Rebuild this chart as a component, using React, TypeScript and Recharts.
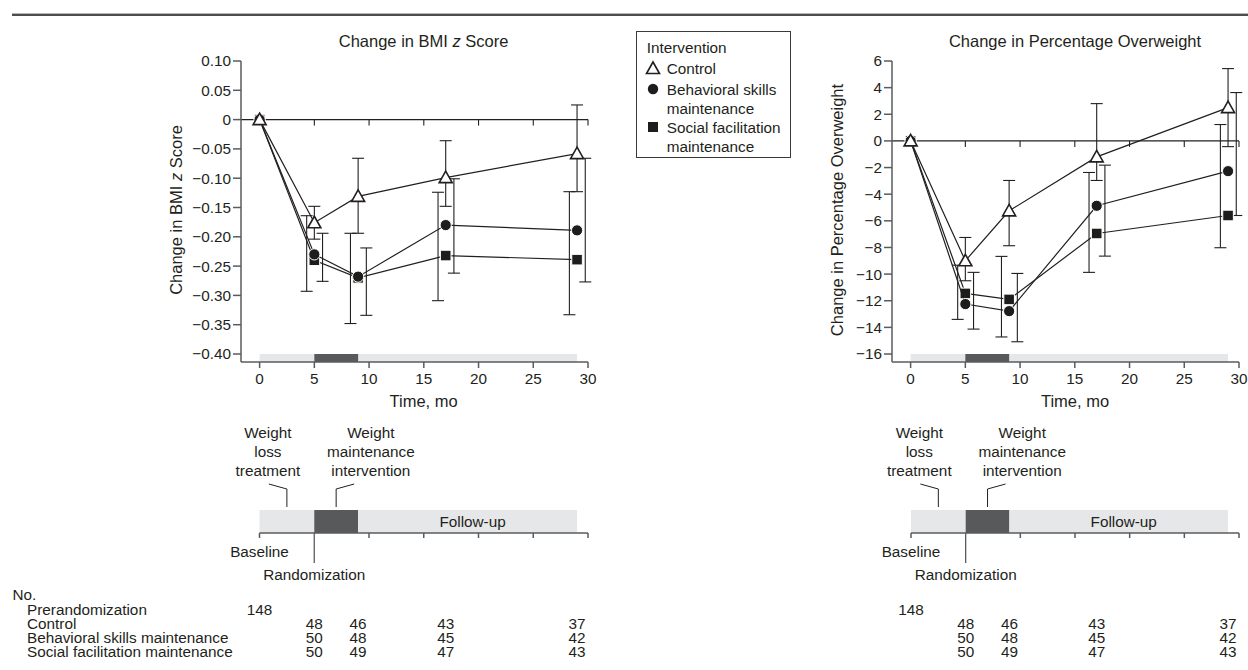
import React from 'react';
import {
  ComposedChart,
  Scatter,
  XAxis,
  YAxis,
  ReferenceLine,
  ReferenceArea,
  ReferenceDot,
  ErrorBar,
} from 'recharts';

const FONT = '"Liberation Sans", Arial, Helvetica, sans-serif';
const INK = '#231f20';
const AXIS = '#5a5b5d';
const LIGHT = '#e6e7e8';
const DARK = '#58595b';
const FS = 15.3;
const FS_BIG = 16.5;

// ---------- data ----------
const months = [0, 5, 9, 17, 29];
const xTicks = [0, 5, 10, 15, 20, 25, 30];

const bmiTicks = [0.1, 0.05, 0, -0.05, -0.1, -0.15, -0.2, -0.25, -0.3, -0.35, -0.4];
const bmiControl = [0, -0.176, -0.131, -0.099, -0.058];
const bmiBehavioral = [0, -0.23, -0.268, -0.18, -0.189];
const bmiSocial = [0, -0.24, -0.27, -0.232, -0.239];
// [below, above]
const bmiControlErr = [[0, 0], [0.028, 0.028], [0.063, 0.065], [0.049, 0.063], [0.065, 0.083]];
const bmiBehavioralErr = [[0, 0], [0.046, 0.036], [0.066, 0.049], [0.082, 0.079], [0.088, 0.123]];
const bmiSocialErr = [[0, 0], [0.053, 0.076], [0.078, 0.076], [0.077, 0.108], [0.094, 0.116]];

const pctTicks = [6, 4, 2, 0, -2, -4, -6, -8, -10, -12, -14, -16];
const pctControl = [0, -9.0, -5.25, -1.2, 2.5];
const pctBehavioral = [0, -12.25, -12.78, -4.87, -2.27];
const pctSocial = [0, -11.45, -11.9, -6.95, -5.6];
const pctControlErr = [[0, 0], [1.5, 1.75], [2.62, 2.28], [1.77, 4.0], [2.93, 2.93]];
const pctBehavioralErr = [[0, 0], [1.88, 2.38], [2.3, 2.83], [3.78, 3.05], [3.33, 5.9]];
const pctSocialErr = [[0, 0], [1.95, 2.12], [2.82, 3.23], [2.92, 4.58], [2.42, 6.83]];

const phaseBounds = [0, 5, 9, 29];
const weightLossLabel = ['Weight', 'loss', 'treatment'];
const maintenanceLabel = ['Weight', 'maintenance', 'intervention'];
const followUpLabel = 'Follow-up';
const baselineLabel = 'Baseline';
const randomizationLabel = 'Randomization';

const nGroups = ['Prerandomization', 'Control', 'Behavioral skills maintenance', 'Social facilitation maintenance'];
const nPrerand = [148];
const nMonths = [5, 9, 17, 29];
const nControl = [48, 46, 43, 37];
const nBehavioral = [50, 48, 45, 42];
const nSocial = [50, 49, 47, 43];

const legendTitle = 'Intervention';
const legendControl = ['Control'];
const legendBehavioral = ['Behavioral skills', 'maintenance'];
const legendSocial = ['Social facilitation', 'maintenance'];

// ---------- style constants ----------
const X_MIN = -1.7;
const SOC_OFF = -0.7;
const BEH_OFF = 0.75;

type Pt = { t: number; v: number; e: number[] };
function build(vals: number[], errs: number[][], off: number, skipZero: boolean): Pt[] {
  const out: Pt[] = [];
  months.forEach((t, i) => {
    if (skipZero && t === 0) return;
    out.push({ t: t + off, v: vals[i], e: errs[i] });
  });
  return out;
}

const Tri = (p: any) => {
  const { cx, cy } = p;
  if (cx == null || cy == null) return <g />;
  return (
    <path
      d={`M${cx},${cy - 6.5}L${cx + 6.5},${cy + 5}L${cx - 6.5},${cy + 5}Z`}
      fill="#fff"
      stroke={INK}
      strokeWidth={1.6}
    />
  );
};
const Dot = (p: any) => {
  if (p.cx == null || p.cy == null) return <g />;
  return <circle cx={p.cx} cy={p.cy} r={5.6} fill="#1d1d1b" stroke="#fff" strokeWidth={1} />;
};
const Sq = (p: any) => {
  if (p.cx == null || p.cy == null) return <g />;
  return <rect x={p.cx - 5.3} y={p.cy - 5.3} width={10.6} height={10.6} fill="#1d1d1b" stroke="#fff" strokeWidth={1} />;
};
const None = () => <g />;

const fmtBmi = (v: number) => (v === 0 ? '0' : (v < 0 ? '\u2212' : '') + Math.abs(v).toFixed(2));
const fmtPct = (v: number) => (v < 0 ? '\u2212' + Math.abs(v) : String(v));

type PanelProps = {
  left: number;
  ml: number;
  mr: number;
  yDomain: [number, number];
  yTicks: number[];
  fmt: (v: number) => string;
  ctrl: number[];
  beh: number[];
  soc: number[];
  ctrlErr: number[][];
  behErr: number[][];
  socErr: number[][];
};

function Panel(props: PanelProps) {
  const { left, ml, mr, yDomain, yTicks, fmt, ctrl, beh, soc, ctrlErr, behErr, socErr } = props;
  const socE = build(soc, socErr, SOC_OFF, true);
  const behE = build(beh, behErr, BEH_OFF, true);
  const ctrlE = build(ctrl, ctrlErr, 0, true);
  const ctrlP = build(ctrl, ctrlErr, 0, false);
  const behP = build(beh, behErr, 0, false);
  const socP = build(soc, socErr, 0, false);
  const axisStyle = { stroke: AXIS, strokeWidth: 1.5 };
  return (
    <div style={{ position: 'absolute', left, top: 0 }}>
      <ComposedChart width={600} height={420} margin={{ top: 61, right: mr, bottom: 28, left: ml }}>
        <XAxis
          type="number"
          dataKey="t"
          domain={[X_MIN, 30]}
          ticks={xTicks}
          interval={0}
          allowDataOverflow
          height={30}
          tickSize={6}
          tickMargin={5}
          axisLine={axisStyle}
          tickLine={axisStyle}
          tick={{ fill: INK, fontSize: FS }}
        />
        <YAxis
          type="number"
          domain={yDomain}
          ticks={yTicks}
          interval={0}
          allowDataOverflow
          width={60}
          tickSize={8}
          tickMargin={2}
          tickFormatter={fmt}
          axisLine={axisStyle}
          tickLine={axisStyle}
          tick={{ fill: INK, fontSize: FS }}
        />
        <ReferenceArea
          x1={phaseBounds[0]}
          x2={phaseBounds[3]}
          y1={yDomain[0]}
          y2={yTicks[yTicks.length - 1]}
          fill={LIGHT}
          fillOpacity={1}
          stroke="none"
        />
        <ReferenceArea
          x1={phaseBounds[1]}
          x2={phaseBounds[2]}
          y1={yDomain[0]}
          y2={yTicks[yTicks.length - 1]}
          fill={DARK}
          fillOpacity={1}
          stroke="none"
        />
        <ReferenceLine y={0} stroke={INK} strokeWidth={1.1} />
        {xTicks.slice(1).map((t) => (
          <ReferenceDot
            key={t}
            x={t}
            y={0}
            ifOverflow="visible"
            shape={(p: any) => (
              <line x1={p.cx} x2={p.cx} y1={p.cy} y2={p.cy + 6} stroke={INK} strokeWidth={1.1} />
            )}
          />
        ))}
        <Scatter data={socE} dataKey="v" shape={None} isAnimationActive={false}>
          <ErrorBar dataKey="e" direction="y" width={6} stroke={INK} strokeWidth={1.1} />
        </Scatter>
        <Scatter data={behE} dataKey="v" shape={None} isAnimationActive={false}>
          <ErrorBar dataKey="e" direction="y" width={6} stroke={INK} strokeWidth={1.1} />
        </Scatter>
        <Scatter data={ctrlE} dataKey="v" shape={None} isAnimationActive={false}>
          <ErrorBar dataKey="e" direction="y" width={6} stroke={INK} strokeWidth={1.1} />
        </Scatter>
        <Scatter
          data={socP}
          dataKey="v"
          fill={INK}
          shape={Sq}
          line={{ stroke: INK, strokeWidth: 1.2 }}
          isAnimationActive={false}
        />
        <Scatter
          data={behP}
          dataKey="v"
          fill={INK}
          shape={Dot}
          line={{ stroke: INK, strokeWidth: 1.2 }}
          isAnimationActive={false}
        />
        <Scatter
          data={ctrlP}
          dataKey="v"
          fill={INK}
          shape={Tri}
          line={{ stroke: INK, strokeWidth: 1.2 }}
          isAnimationActive={false}
        />
      </ComposedChart>
    </div>
  );
}

const txt = { fill: INK, fontSize: FS, dominantBaseline: 'central' as const };

// offsets below the timeline axis line
const ROWS = [76, 90, 104, 118];
const timelineTicks = Array.from(new Set([...xTicks, ...months])).sort((a, b) => a - b);

const TimelineTick = (p: any) => {
  const { x, y, payload } = p;
  const v = payload && payload.value;
  const parts: any[] = [];
  if (xTicks.indexOf(v) >= 0) {
    parts.push(
      <line
        key="tl"
        x1={x}
        x2={x}
        y1={y}
        y2={y + (v === phaseBounds[1] ? 30 : 5)}
        stroke={AXIS}
        strokeWidth={v === phaseBounds[1] ? 1.3 : 1.5}
      />
    );
  }
  if (v === phaseBounds[0]) {
    parts.push(
      <text key="bl" x={x} y={y + 18} textAnchor="middle" {...txt}>
        {baselineLabel}
      </text>
    );
    parts.push(
      <text key="n0" x={x} y={y + ROWS[0]} textAnchor="middle" {...txt}>
        {nPrerand[0]}
      </text>
    );
  }
  if (v === phaseBounds[1]) {
    parts.push(
      <text key="rd" x={x} y={y + 41.3} textAnchor="middle" {...txt}>
        {randomizationLabel}
      </text>
    );
  }
  const i = nMonths.indexOf(v);
  if (i >= 0) {
    [nControl[i], nBehavioral[i], nSocial[i]].forEach((n, k) => {
      parts.push(
        <text key={'n' + k} x={x} y={y + ROWS[k + 1]} textAnchor="middle" {...txt}>
          {n}
        </text>
      );
    });
  }
  return <g>{parts}</g>;
};

const Leader = (p: any) => {
  const { cx, cy, lines, dx, dir } = p;
  if (cx == null || cy == null) return <g />;
  return (
    <g>
      <polyline
        points={`${cx},${cy - 3} ${cx},${cy - 21} ${cx + dir * 18},${cy - 26}`}
        fill="none"
        stroke={INK}
        strokeWidth={1}
      />
      {lines.map((s: string, i: number) => (
        <text key={i} x={cx + dx} y={cy - 77.7 + i * 19.2} textAnchor="middle" {...txt}>
          {s}
        </text>
      ))}
    </g>
  );
};

function Timeline({ left, ml, mr }: { left: number; ml: number; mr: number }) {
  const axisStyle = { stroke: AXIS, strokeWidth: 1.5 };
  const dummy = phaseBounds.map((t) => ({ t, v: 0 }));
  const phases = [
    { x1: phaseBounds[0], x2: phaseBounds[1], fill: LIGHT },
    { x1: phaseBounds[1], x2: phaseBounds[2], fill: DARK },
    { x1: phaseBounds[2], x2: phaseBounds[3], fill: LIGHT },
  ];
  return (
    <div style={{ position: 'absolute', left, top: 420 }}>
      <ComposedChart width={600} height={250} margin={{ top: 90, right: mr, bottom: 0, left: ml }}>
        <XAxis
          xAxisId="time"
          type="number"
          dataKey="t"
          domain={[0, 30]}
          ticks={timelineTicks}
          interval={0}
          allowDataOverflow
          height={137}
          tickSize={0}
          tickMargin={0}
          axisLine={axisStyle}
          tickLine={false}
          tick={<TimelineTick />}
        />
        <YAxis yAxisId="p" type="number" domain={[0, 1]} allowDataOverflow hide />
        {phases.map((ph, i) => (
          <ReferenceArea
            key={i}
            xAxisId="time"
            yAxisId="p"
            x1={ph.x1}
            x2={ph.x2}
            y1={0}
            y2={1}
            fill={ph.fill}
            fillOpacity={1}
            stroke="none"
            label={
              i === 2
                ? {
                    content: (lp: any) => {
                      const vb = lp.viewBox || {};
                      return (
                        <text
                          x={vb.x + vb.width / 2 + 5}
                          y={vb.y + vb.height / 2}
                          textAnchor="middle"
                          {...txt}
                        >
                          {followUpLabel}
                        </text>
                      );
                    },
                  }
                : undefined
            }
          />
        ))}
        <ReferenceDot
          xAxisId="time"
          yAxisId="p"
          x={(phaseBounds[0] + phaseBounds[1]) / 2}
          y={1}
          ifOverflow="visible"
          shape={(p: any) => <Leader cx={p.cx} cy={p.cy} lines={weightLossLabel} dx={-19} dir={-1} />}
        />
        <ReferenceDot
          xAxisId="time"
          yAxisId="p"
          x={(phaseBounds[1] + phaseBounds[2]) / 2}
          y={1}
          ifOverflow="visible"
          shape={(p: any) => <Leader cx={p.cx} cy={p.cy} lines={maintenanceLabel} dx={34.7} dir={1} />}
        />
        <Scatter xAxisId="time" yAxisId="p" data={dummy} dataKey="v" shape={None} isAnimationActive={false} />
      </ComposedChart>
    </div>
  );
}

function Overlay() {
  const t = { fill: INK, fontSize: FS, dominantBaseline: 'central' as const };
  const big = { fill: INK, fontSize: FS_BIG, dominantBaseline: 'central' as const };
  return (
    <svg
      width={1248}
      height={670}
      style={{ position: 'absolute', left: 0, top: 0, pointerEvents: 'none', fontFamily: FONT }}
    >
      <rect x={12} y={13} width={1236} height={1} fill="#b5b6b8" />
      <rect x={12} y={14} width={1236} height={2} fill="#4d4d4f" />

      <text x={423.6} y={40.5} textAnchor="middle" {...big}>
        Change in BMI <tspan fontStyle="italic">z</tspan> Score
      </text>
      <text x={1075} y={40.5} textAnchor="middle" {...big}>
        Change in Percentage Overweight
      </text>

      <text x={175.5} y={210} textAnchor="middle" transform="rotate(-90 175.5 210)" {...big}>
        Change in BMI <tspan fontStyle="italic">z</tspan> Score
      </text>
      <text x={837} y={210} textAnchor="middle" transform="rotate(-90 837 210)" {...big}>
        Change in Percentage Overweight
      </text>

      <text x={423.6} y={401} textAnchor="middle" {...big}>
        Time, mo
      </text>
      <text x={1075} y={401} textAnchor="middle" {...big}>
        Time, mo
      </text>

      {/* legend */}
      <rect x={636.5} y={31.5} width={154} height={126} fill="#fff" stroke="#3a3a3a" strokeWidth={1} />
      <text x={646.7} y={47} {...t}>
        {legendTitle}
      </text>
      <Tri cx={653} cy={68.5} />
      {legendControl.map((s, i) => (
        <text key={s} x={666.7} y={68.5 + i * 19.3} {...t}>
          {s}
        </text>
      ))}
      <circle cx={653} cy={89} r={5.2} fill="#1d1d1b" />
      {legendBehavioral.map((s, i) => (
        <text key={s} x={666.7} y={89 + i * 19.3} {...t}>
          {s}
        </text>
      ))}
      <rect x={648} y={122} width={10} height={10} fill="#1d1d1b" />
      {legendSocial.map((s, i) => (
        <text key={s} x={666.7} y={127 + i * 19.3} {...t}>
          {s}
        </text>
      ))}

      {/* table labels */}
      <text x={12.5} y={594} {...t}>
        No.
      </text>
      {nGroups.map((g, i) => (
        <text key={g} x={27} y={609 + i * 14} {...t}>
          {g}
        </text>
      ))}
    </svg>
  );
}

export default function App() {
  return (
    <div
      style={{
        position: 'absolute',
        left: 0,
        top: 0,
        width: 1248,
        height: 670,
        overflow: 'hidden',
        background: '#fff',
        fontFamily: FONT,
      }}
    >
      <Panel
        left={0}
        ml={181}
        mr={12}
        yDomain={[-0.41365, 0.1]}
        yTicks={bmiTicks}
        fmt={fmtBmi}
        ctrl={bmiControl}
        beh={bmiBehavioral}
        soc={bmiSocial}
        ctrlErr={bmiControlErr}
        behErr={bmiBehavioralErr}
        socErr={bmiSocialErr}
      />
      <Panel
        left={648}
        ml={184}
        mr={9}
        yDomain={[-16.6, 6]}
        yTicks={pctTicks}
        fmt={fmtPct}
        ctrl={pctControl}
        beh={pctBehavioral}
        soc={pctSocial}
        ctrlErr={pctControlErr}
        behErr={pctBehavioralErr}
        socErr={pctSocialErr}
      />
      <Timeline left={0} ml={259.5} mr={12} />
      <Timeline left={648} ml={263} mr={9} />
      <Overlay />
    </div>
  );
}
